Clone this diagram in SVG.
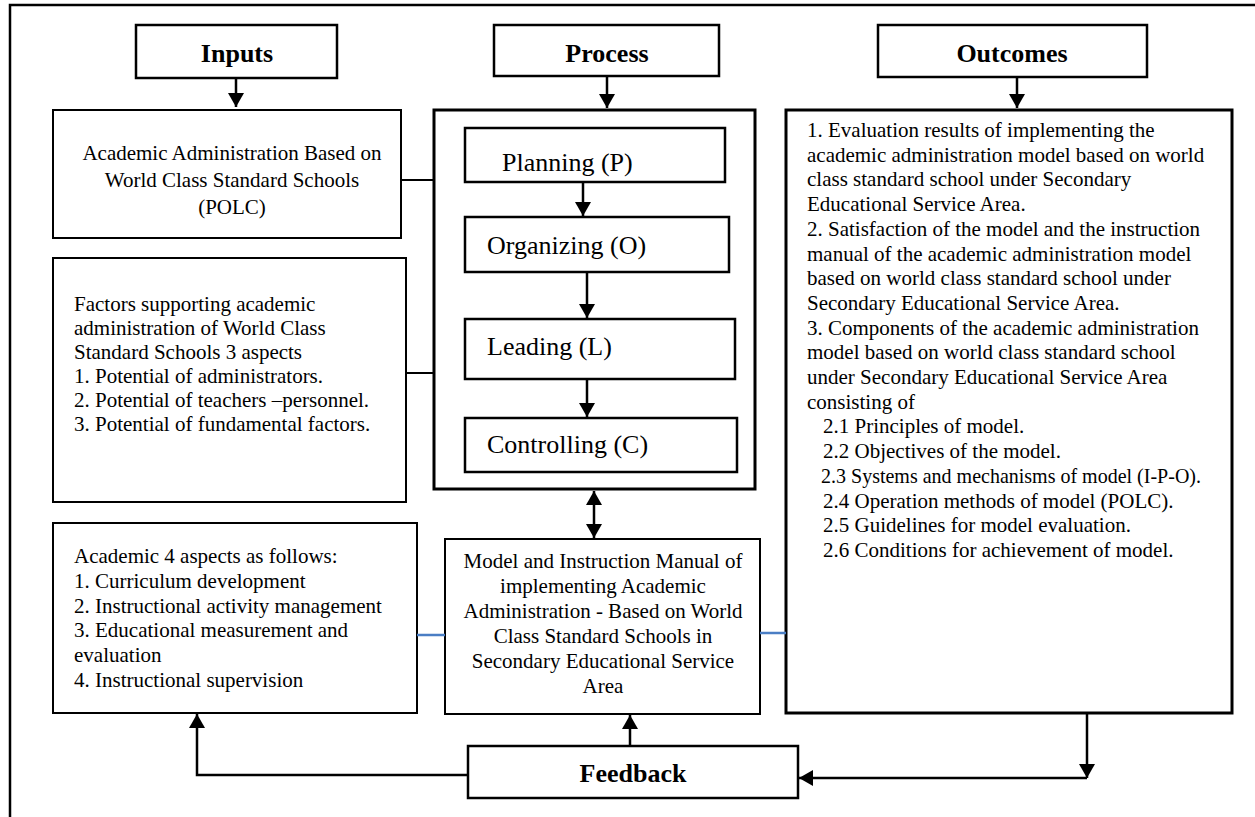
<svg xmlns="http://www.w3.org/2000/svg" width="1255" height="817" viewBox="0 0 1255 817">
<style>
  .box{fill:#fff;stroke:#000;stroke-width:2}
  .hbox{fill:#fff;stroke:#000;stroke-width:2.5}
  .tbox{fill:#fff;stroke:#000;stroke-width:3}
  .hd{font-family:"Liberation Serif","Times New Roman",serif;font-weight:bold;font-size:26px;fill:#000;text-anchor:middle}
  .st{font-family:"Liberation Serif","Times New Roman",serif;font-size:26px;fill:#000}
  .tx{font-family:"Liberation Serif","Times New Roman",serif;font-size:21px;fill:#000}
  .c{text-anchor:middle}
  .ln{fill:none;stroke:#000;stroke-width:2.5}
  .lt{fill:none;stroke:#000;stroke-width:2}
  .bl{fill:none;stroke:#4a7ec4;stroke-width:2.5}
</style>
<defs>
  <marker id="ah" markerUnits="userSpaceOnUse" markerWidth="16" markerHeight="16" refX="14" refY="8" orient="auto-start-reverse" viewBox="0 0 16 16">
    <path d="M0,0 L14,8 L0,16 z" fill="#000"/>
  </marker>
</defs>
<rect width="1255" height="817" fill="#fff"/>
<g id="frame">
  <path d="M10,817 V5 H1255" class="ln"/>
</g>
<g id="inputs"><rect x="136" y="25" width="201" height="53" class="hbox"/><text x="237" y="62" class="hd">Inputs</text></g>
<g id="process"><rect x="494" y="25" width="225" height="51" class="hbox"/><text x="607" y="62" class="hd">Process</text></g>
<g id="outcomes"><rect x="878" y="25" width="269" height="52" class="hbox"/><text x="1012" y="62" class="hd">Outcomes</text></g>

<g id="academic-admin"><rect x="53" y="110" width="348" height="128" class="box"/>
  <text class="tx c"><tspan x="232" y="160">Academic Administration Based on</tspan><tspan x="232" y="187">World Class Standard Schools</tspan><tspan x="232" y="214">(POLC)</tspan></text></g>

<g id="factors"><rect x="53" y="258" width="353" height="244" class="box"/>
  <text class="tx"><tspan x="74" y="311">Factors supporting academic</tspan><tspan x="74" y="335">administration of World Class</tspan><tspan x="74" y="359">Standard Schools 3 aspects</tspan><tspan x="74" y="383">1. Potential of administrators.</tspan><tspan x="74" y="407">2. Potential of teachers –personnel.</tspan><tspan x="74" y="431">3. Potential of fundamental factors.</tspan></text></g>

<g id="academic-4"><rect x="53" y="523" width="364" height="190" class="box"/>
  <text class="tx"><tspan x="74" y="563">Academic 4 aspects as follows:</tspan><tspan x="74" y="588">1. Curriculum development</tspan><tspan x="74" y="613">2. Instructional activity management</tspan><tspan x="74" y="637">3. Educational measurement and</tspan><tspan x="74" y="662">evaluation</tspan><tspan x="74" y="687">4. Instructional supervision</tspan></text></g>

<g id="process-box"><rect x="434" y="110" width="321" height="379" class="tbox"/></g>
<g id="planning"><rect x="465" y="128" width="260" height="54" class="hbox"/><text x="502" y="171" class="st">Planning (P)</text></g>
<g id="organizing"><rect x="465" y="217" width="264" height="55" class="hbox"/><text x="487" y="254" class="st">Organizing (O)</text></g>
<g id="leading"><rect x="465" y="319" width="270" height="60" class="hbox"/><text x="487" y="355" class="st">Leading (L)</text></g>
<g id="controlling"><rect x="465" y="418" width="272" height="54" class="hbox"/><text x="487" y="453" class="st">Controlling (C)</text></g>

<g id="model"><rect x="445" y="539" width="315" height="175" class="box"/>
  <text class="tx c"><tspan x="603" y="568">Model and Instruction Manual of</tspan><tspan x="603" y="593">implementing Academic</tspan><tspan x="603" y="618">Administration - Based on World</tspan><tspan x="603" y="643">Class Standard Schools in</tspan><tspan x="603" y="668">Secondary Educational Service</tspan><tspan x="603" y="693">Area</tspan></text></g>

<g id="outcomes-list"><rect x="786" y="110" width="446" height="603" class="tbox"/>
  <text class="tx">
    <tspan x="807" y="137">1. Evaluation results of implementing the</tspan>
    <tspan x="807" y="161.7">academic administration model based on world</tspan>
    <tspan x="807" y="186.4">class standard school under Secondary</tspan>
    <tspan x="807" y="211.1">Educational Service Area.</tspan>
    <tspan x="807" y="235.8"> 2. Satisfaction of the model and the instruction</tspan>
    <tspan x="807" y="260.5">manual of the academic administration model</tspan>
    <tspan x="807" y="285.2">based on world class standard school under</tspan>
    <tspan x="807" y="309.9">Secondary Educational Service Area.</tspan>
    <tspan x="807" y="334.6">3. Components of the academic administration</tspan>
    <tspan x="807" y="359.3">model based on world class standard school</tspan>
    <tspan x="807" y="384">under Secondary Educational Service Area</tspan>
    <tspan x="807" y="408.7">consisting of</tspan>
    <tspan x="823" y="433.4">2.1 Principles of model.</tspan>
    <tspan x="823" y="458.1">2.2 Objectives of the model.</tspan>
  </text>
  <text class="tx" x="821" y="482.8" textLength="380" lengthAdjust="spacingAndGlyphs">2.3 Systems and mechanisms of model (I-P-O).</text>
  <text class="tx"><tspan x="823" y="507.5">2.4 Operation methods of model (POLC).</tspan><tspan x="823" y="532.2">2.5 Guidelines for model evaluation.</tspan><tspan x="823" y="556.9">2.6 Conditions for achievement of model.</tspan></text>
</g>

<g id="feedback"><rect x="468" y="746" width="330" height="52" class="hbox"/><text x="633" y="782" class="hd">Feedback</text></g>

<g id="connectors">
  <path d="M236,78 V107" class="ln" marker-end="url(#ah)"/>
  <path d="M607,76 V108" class="ln" marker-end="url(#ah)"/>
  <path d="M1017,77 V108" class="ln" marker-end="url(#ah)"/>
  <path d="M583,182 V216" class="ln" marker-end="url(#ah)"/>
  <path d="M587,272 V318" class="ln" marker-end="url(#ah)"/>
  <path d="M587,379 V417" class="ln" marker-end="url(#ah)"/>
  <path d="M401,180 H433" class="lt"/>
  <path d="M406,373 H433" class="lt"/>
  <path d="M594,491 V538" class="ln" marker-start="url(#ah)" marker-end="url(#ah)"/>
  <path d="M417,635 H445" class="bl"/>
  <path d="M760,633 H786" class="bl"/>
  <path d="M630,746 V715" class="ln" marker-end="url(#ah)"/>
  <path d="M468,775 H197 V714" class="ln" marker-end="url(#ah)"/>
  <path d="M1087,713 V778" class="ln" marker-end="url(#ah)"/>
  <path d="M1087,778 H799" class="ln" marker-end="url(#ah)"/>
</g>
</svg>
